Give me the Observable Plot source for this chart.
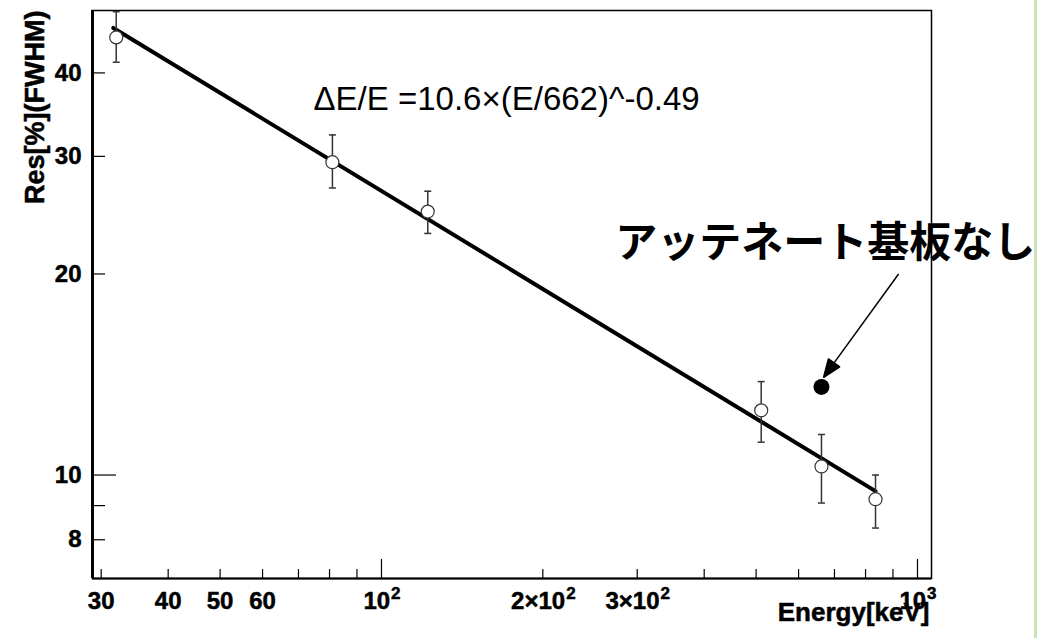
<!DOCTYPE html>
<html><head><meta charset="utf-8">
<script src="https://cdn.jsdelivr.net/npm/d3@7"></script>
<script src="https://cdn.jsdelivr.net/npm/@observablehq/plot@0.6"></script>
<style>
body{margin:0;background:#fff;overflow:hidden}
#chart{position:relative;width:1037px;height:638px;background:#fff}
#edge{position:absolute;right:0;top:0;width:3px;height:638px;background:#cce3b6}
</style></head><body><div id="chart"><div id="edge"></div></div>
<script>
// ---- data ----
const energy   = [32, 81, 122, 511, 662, 835];          // keV
const res      = [45.2, 29.4, 24.8, 12.5, 10.3, 9.2];    // % FWHM
const resLow   = [41.5, 26.9, 23.0, 11.2, 9.08, 8.33];
const resHigh  = [49.4, 32.3, 26.6, 13.8, 11.5, 10.0];
const noAttEnergy = [662];
const noAttRes    = [13.55];
const fitEnergy = [31.6, 835];
const fitRes    = [46.7, 9.46];
const arrowFrom = [922, 20.0];
const arrowTo   = [668, 14.0];
const formulaText = ["ΔE/E =10.6×(E/662)^-0.49"];
const formulaAt = [74.7, 36.5];
const noteText = ["アッテネート基板なし"];
const noteAt = [673, 22.2];
const xTitle = ["Energy[keV]"];
const yTitle = ["Res[%](FWHM)"];
const xDomain = [28.9, 1062];
const yDomain = [7, 49.6];
const xMinorTicks = [30, 40, 50, 60, 70, 80, 90, 200, 300, 400, 500, 600, 700, 800, 900];
const xMajorTicks = [100, 1000];
const xLabelTicks = [30, 40, 50, 60, 100, 200, 300, 1000];
const xLabelBase  = ["30", "40", "50", "60", "10", "2×10", "3×10", "10"];
const xLabelExp   = ["", "", "", "", "2", "2", "2", "3"];
const yMinorTicks = [8, 9, 20, 30, 40];
const yMajorTicks = [10];
const yLabelTicks = [8, 10, 20, 30, 40];
const yLabelText  = ["8", "10", "20", "30", "40"];

// ---- layout ----
const W = 1037, H = 638;
const mL = 92, mR = 106, mT = 10, mB = 60;
const plotW = W - mL - mR, plotH = H - mT - mB;
const FONT = "'Liberation Sans', Arial, sans-serif";
const labelSize = 24, expSize = 17;

const points = energy.map((e, i) => ({e, r: res[i], lo: resLow[i], hi: resHigh[i]}));
const fit = fitEnergy.map((e, i) => ({e, r: fitRes[i]}));
const noAtt = noAttEnergy.map((e, i) => ({e, r: noAttRes[i]}));
const yLabels = yLabelTicks.map((v, i) => ({v, t: yLabelText[i]}));

const measureCtx = document.createElement("canvas").getContext("2d");
function textWidth(s, size) { measureCtx.font = `bold ${size}px ${FONT}`; return measureCtx.measureText(s).width; }

const xLabelMarks = xLabelTicks.flatMap((v, i) => {
  const wb = textWidth(xLabelBase[i], labelSize);
  const we = xLabelExp[i] ? textWidth(xLabelExp[i], expSize) : 0;
  const start = -(wb + we) / 2;
  const common = {x: d => d.v, frameAnchor: "bottom", textAnchor: "start", fontWeight: "bold", fill: "black", stroke: "black", strokeWidth: 0.5};
  const marks = [Plot.text([{v, t: xLabelBase[i]}], {...common, text: "t", dx: start, dy: 30, fontSize: labelSize})];
  if (xLabelExp[i]) marks.push(Plot.text([{v, t: xLabelExp[i]}], {...common, text: "t", dx: start + wb + 1, dy: 20, fontSize: expSize}));
  return marks;
});

const capSymbol = {draw(ctx, size) { const w = Math.sqrt(size / Math.PI); ctx.moveTo(-w, 0); ctx.lineTo(w, 0); }};

function filledHead(color, context) {
  const ns = "http://www.w3.org/2000/svg";
  const doc = context.document;
  const m = doc.createElementNS(ns, "marker");
  m.setAttribute("viewBox", "-18 -7 18 14");
  m.setAttribute("markerUnits", "userSpaceOnUse");
  m.setAttribute("markerWidth", "18");
  m.setAttribute("markerHeight", "14");
  m.setAttribute("refX", "0");
  m.setAttribute("refY", "0");
  m.setAttribute("orient", "auto");
  m.setAttribute("overflow", "visible");
  const p = doc.createElementNS(ns, "path");
  p.setAttribute("d", "M-18,-7L0,0L-18,7Z");
  p.setAttribute("fill", color);
  m.appendChild(p);
  return m;
}

const chart = Plot.plot({
  width: W, height: H,
  marginLeft: mL, marginRight: mR, marginTop: mT, marginBottom: mB,
  style: {fontFamily: FONT, background: "white", color: "black", overflow: "visible"},
  x: {type: "log", domain: xDomain, axis: null},
  y: {type: "log", domain: yDomain, axis: null},
  marks: [
    Plot.frame({stroke: "black", strokeWidth: 1.5}),
    Plot.ruleX([xDomain[0]], {stroke: "black", strokeWidth: 3}),
    Plot.ruleY([yDomain[0]], {stroke: "black", strokeWidth: 2}),
    Plot.tickX(xMinorTicks, {x: d => d, insetTop: plotH - 9, stroke: "black", strokeWidth: 1.2}),
    Plot.tickX(xMajorTicks, {x: d => d, insetTop: plotH - 19, stroke: "black", strokeWidth: 1.2}),
    Plot.tickY(yMinorTicks, {y: d => d, insetRight: plotW - 13, stroke: "black", strokeWidth: 1.2}),
    Plot.tickY(yMajorTicks, {y: d => d, insetRight: plotW - 24, stroke: "black", strokeWidth: 1.2}),
    ...xLabelMarks,
    Plot.text(yLabels, {y: "v", text: "t", frameAnchor: "left", dx: -11, textAnchor: "end", fontSize: labelSize, fontWeight: "bold", fill: "black", stroke: "black", strokeWidth: 0.5}),
    Plot.line(fit, {x: "e", y: "r", stroke: "black", strokeWidth: 4}),
    Plot.ruleX(points, {x: "e", y1: "lo", y2: "hi", stroke: "#333", strokeWidth: 1.5}),
    Plot.dot(points, {x: "e", y: "hi", symbol: capSymbol, r: 3.5, stroke: "#333", strokeWidth: 1.5}),
    Plot.dot(points, {x: "e", y: "lo", symbol: capSymbol, r: 3.5, stroke: "#333", strokeWidth: 1.5}),
    Plot.dot(points, {x: "e", y: "r", r: 6.5, fill: "white", stroke: "#333", strokeWidth: 1.2}),
    Plot.dot(noAtt, {x: "e", y: "r", r: 8, fill: "black", stroke: "none"}),
    Plot.link([{x1: arrowFrom[0], y1: arrowFrom[1], x2: arrowTo[0], y2: arrowTo[1]}],
      {x1: "x1", y1: "y1", x2: "x2", y2: "y2", stroke: "black", strokeWidth: 1.5, markerEnd: filledHead}),
    Plot.text(formulaText, {x: () => formulaAt[0], y: () => formulaAt[1], text: d => d, textAnchor: "start", fontSize: 33, fill: "black"}),
    Plot.text(noteText, {x: () => noteAt[0], y: () => noteAt[1], text: d => d, textAnchor: "middle", fontSize: 42, fontWeight: "bold", fontFamily: "'Noto Sans CJK JP', sans-serif", fill: "black"}),
    Plot.text(yTitle, {frameAnchor: "top-left", text: d => d, dx: -68, rotate: -90, textAnchor: "end", fontSize: 27, fontWeight: "bold", fill: "black", stroke: "black", strokeWidth: 0.5}),
    Plot.text(xTitle, {frameAnchor: "bottom-right", text: d => d, dx: -2, dy: 42, textAnchor: "end", fontSize: 26, fontWeight: "bold", fill: "black", stroke: "black", strokeWidth: 0.5})
  ]
});
document.getElementById("chart").appendChild(chart);
</script>
</body></html>
